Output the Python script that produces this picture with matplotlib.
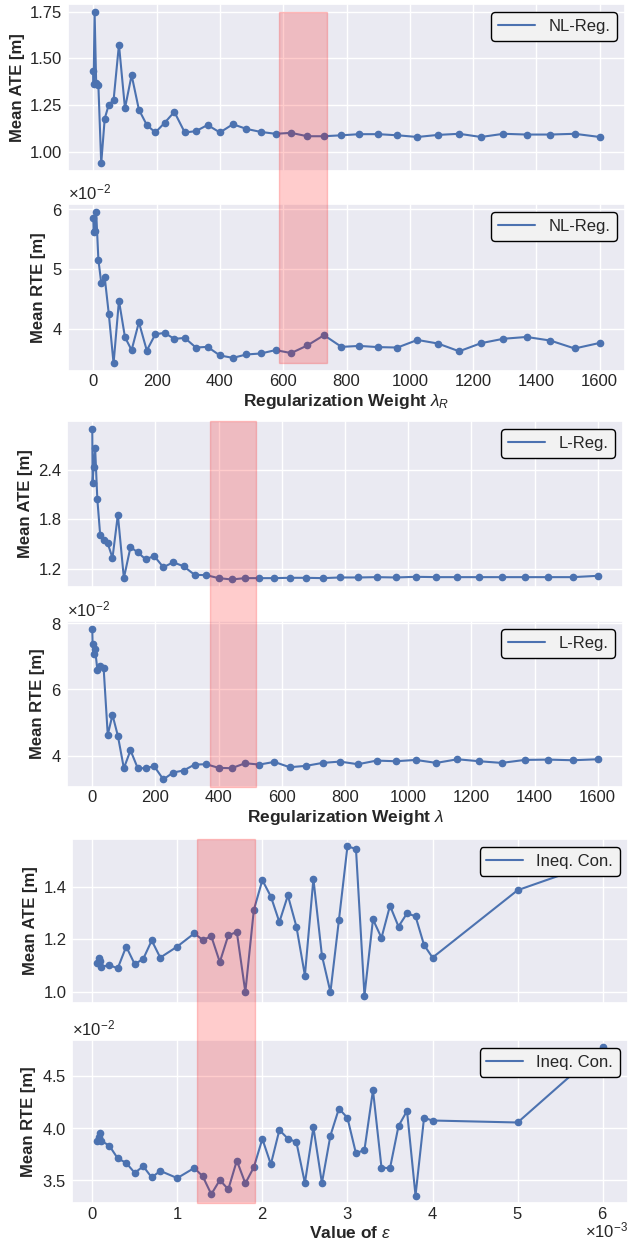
import matplotlib
matplotlib.use("Agg")
import matplotlib.pyplot as plt
import seaborn as sns
from matplotlib.patches import Rectangle
from matplotlib.transforms import ScaledTranslation

# regularization weights (lambda) used in both weight sweeps
lam = [0, 1, 4, 9, 16, 25, 36, 49, 64, 81, 100, 121, 144, 169, 196, 225, 256,
       289, 324, 361, 400, 441, 484, 529, 576, 625, 676, 729, 784, 841, 900,
       961, 1024, 1089, 1156, 1225, 1296, 1369, 1444, 1521, 1600]

# non-linear regularization
nl_ate = [1.433, 1.362, 1.750, 1.370, 1.356, 0.940, 1.179, 1.254, 1.277, 1.574,
          1.234, 1.411, 1.227, 1.145, 1.105, 1.156, 1.215, 1.105, 1.112, 1.145,
          1.105, 1.149, 1.124, 1.108, 1.098, 1.103, 1.085, 1.085, 1.090, 1.096,
          1.096, 1.090, 1.081, 1.092, 1.098, 1.081, 1.098, 1.094, 1.094, 1.098,
          1.081]
nl_rte = [0.0585, 0.0561, 0.0564, 0.0596, 0.05156, 0.04767, 0.0486, 0.0424,
          0.03417, 0.0447, 0.03856, 0.0364, 0.04106, 0.03633, 0.03906, 0.03928,
          0.03828, 0.03844, 0.03683, 0.03694, 0.0355, 0.0351, 0.03567, 0.03583,
          0.0364, 0.0359, 0.03717, 0.0389, 0.03694, 0.0371, 0.0369, 0.03683,
          0.0381, 0.0375, 0.0362, 0.03756, 0.0383, 0.0386, 0.0380, 0.03667,
          0.0376]
nl_best = (587, 738)

# linear regularization
l_ate = [2.900, 2.244, 2.430, 2.670, 2.044, 1.612, 1.544, 1.508, 1.332, 1.856,
         1.088, 1.464, 1.400, 1.316, 1.356, 1.220, 1.280, 1.232, 1.128, 1.124,
         1.088, 1.072, 1.088, 1.088, 1.088, 1.092, 1.092, 1.088, 1.096, 1.096,
         1.100, 1.096, 1.104, 1.100, 1.100, 1.100, 1.100, 1.100, 1.100, 1.100,
         1.116]
l_rte = [0.0784, 0.0738, 0.0708, 0.0721, 0.0660, 0.0671, 0.0664, 0.0463,
         0.0523, 0.0460, 0.0362, 0.0416, 0.0362, 0.0362, 0.0368, 0.0328,
         0.0349, 0.0355, 0.0373, 0.0374, 0.0363, 0.0362, 0.0377, 0.0373,
         0.0381, 0.0365, 0.0369, 0.0378, 0.0382, 0.0374, 0.0385, 0.0383,
         0.0387, 0.0378, 0.0389, 0.0383, 0.0378, 0.0387, 0.0388, 0.0386,
         0.0389]
l_best = (372, 519)

# inequality constraint, epsilon sweep
eps = [0.00006, 0.00008, 0.00009, 0.0001, 0.0002, 0.0003, 0.0004, 0.0005,
       0.0006, 0.0007, 0.0008, 0.0010, 0.0012, 0.0013, 0.0014, 0.0015,
       0.0016, 0.0017, 0.0018, 0.0019, 0.0020, 0.0021, 0.0022, 0.0023,
       0.0024, 0.0025, 0.0026, 0.0027, 0.0028, 0.0029, 0.0030, 0.0031,
       0.0032, 0.0033, 0.0034, 0.0035, 0.0036, 0.0037, 0.0038, 0.0039,
       0.0040, 0.0050, 0.0060]
ineq_ate = [1.110, 1.131, 1.120, 1.095, 1.103, 1.090, 1.173, 1.106, 1.126,
            1.196, 1.131, 1.173, 1.223, 1.198, 1.212, 1.114, 1.216, 1.228,
            1.000, 1.312, 1.425, 1.363, 1.266, 1.367, 1.249, 1.063, 1.430,
            1.139, 1.000, 1.274, 1.553, 1.544, 0.987, 1.276, 1.206, 1.328,
            1.249, 1.299, 1.288, 1.179, 1.131, 1.387, 1.500]
ineq_rte = [0.03874, 0.03912, 0.03956, 0.0388, 0.03833, 0.03711, 0.03667,
            0.03572, 0.03635, 0.03528, 0.03591, 0.03522, 0.03619, 0.03538,
            0.03368, 0.03503, 0.03415, 0.03689, 0.03472, 0.03626, 0.03896,
            0.03654, 0.03981, 0.03899, 0.03865, 0.03475, 0.04006, 0.03475,
            0.03928, 0.04186, 0.04097, 0.03758, 0.03792, 0.04362, 0.03623,
            0.03616, 0.04019, 0.04164, 0.03355, 0.04097, 0.04072, 0.04053,
            0.0477]
ineq_best = (0.001235, 0.001915)

sns.set_theme(style="darkgrid")
plt.rcParams["font.family"] = ["Liberation Sans", "DejaVu Sans"]
plt.rcParams["mathtext.fontset"] = "custom"
plt.rcParams["mathtext.rm"] = "Liberation Sans"
plt.rcParams["mathtext.it"] = "Liberation Sans:italic"
plt.rcParams["mathtext.bf"] = "Liberation Sans:bold"

W, H = 628, 1240
fig = plt.figure(figsize=(W / 100, H / 100), dpi=100)
BLUE = "#4C72B0"


def box(left, right, top, bottom):
    return [left / W, 1 - bottom / H, (right - left) / W, (bottom - top) / H]


def panel(ax, x, y, label, yticks):
    ax.plot(x, y, "-", color=BLUE, lw=1.5, label=label)
    ax.plot(x, y, "o", color=BLUE, ms=4.5)
    ax.set_yticks(yticks)
    ax.tick_params(labelsize=12, length=0)
    ax.tick_params(axis="y", pad=4)
    ax.tick_params(axis="x", pad=2)
    leg = ax.legend(loc="upper right", fontsize=12, frameon=True,
                    fancybox=True, framealpha=1, facecolor="#F2F2F2",
                    edgecolor="black", handlelength=2.2)
    leg.get_frame().set_linewidth(1.0)


def pair(rects, x, ate, rte, label, xlabel, ate_ticks, rte_ticks):
    ax1 = fig.add_axes(box(*rects[0]))
    ax2 = fig.add_axes(box(*rects[1]))
    panel(ax1, x, ate, label, ate_ticks)
    panel(ax2, x, rte, label, rte_ticks)
    ax2.ticklabel_format(axis="y", style="sci", scilimits=(0, 0), useMathText=True)
    ax2.yaxis.get_offset_text().set_fontsize(12)
    ax1.set_xlim(ax2.get_xlim())
    ax1.tick_params(labelbottom=False)
    ax1.set_ylabel("Mean ATE [m]", fontsize=12, fontweight="bold")
    ax2.set_ylabel("Mean RTE [m]", fontsize=12, fontweight="bold")
    ax2.set_xlabel(xlabel, fontsize=12.5, fontweight="bold", labelpad=2)
    return ax1, ax2


def highlight(ax_top, ax_bot, x0, x1, y_top=None, y_bot=None):
    # shaded band spanning both panels of a pair
    if y_top is None:
        y_top = ax_top.get_ylim()[1]
    if y_bot is None:
        y_bot = ax_bot.get_ylim()[0]
    inv = fig.transFigure.inverted()
    p0 = inv.transform(ax_bot.transData.transform((x0, y_bot)))
    p1 = inv.transform(ax_top.transData.transform((x1, y_top)))
    fig.patches.append(Rectangle(p0, p1[0] - p0[0], p1[1] - p0[1],
                                 transform=fig.transFigure, color="red",
                                 alpha=0.2, lw=1.0, zorder=5))


# NL-Reg.
a1, a2 = pair([(68, 625, 4, 171), (68, 625, 204, 371)], lam, nl_ate, nl_rte,
              "NL-Reg.", r"Regularization Weight $\lambda_R$",
              [1.0, 1.25, 1.5, 1.75], [0.04, 0.05, 0.06])
highlight(a1, a2, nl_best[0], nl_best[1], max(nl_ate), min(nl_rte))

# L-Reg.
b1, b2 = pair([(67, 623, 421, 587), (67, 623, 621, 787)], lam, l_ate, l_rte,
              "L-Reg.", r"Regularization Weight $\lambda$",
              [1.2, 1.8, 2.4], [0.04, 0.06, 0.08])
fig.align_ylabels([b1, b2])
highlight(b1, b2, l_best[0], l_best[1])

# Ineq. Con.
c1, c2 = pair([(72, 628, 839, 1003), (72, 628, 1040, 1203)], eps, ineq_ate,
              ineq_rte, "Ineq. Con.", r"Value of $\varepsilon$",
              [1.0, 1.2, 1.4], [0.035, 0.040, 0.045])
for ax in (c1, c2):
    ax.set_xticks([0, 0.001, 0.002, 0.003, 0.004, 0.005, 0.006])
c2.ticklabel_format(axis="x", style="sci", scilimits=(0, 0), useMathText=True)
off = c2.xaxis.get_offset_text()
off.set_fontsize(12)
off.set_transform(off.get_transform() + ScaledTranslation(0, 4 / 72, fig.dpi_scale_trans))
c1.set_xlim(c2.get_xlim())
highlight(c1, c2, ineq_best[0], ineq_best[1])

fig.savefig("out.png", dpi=100)
